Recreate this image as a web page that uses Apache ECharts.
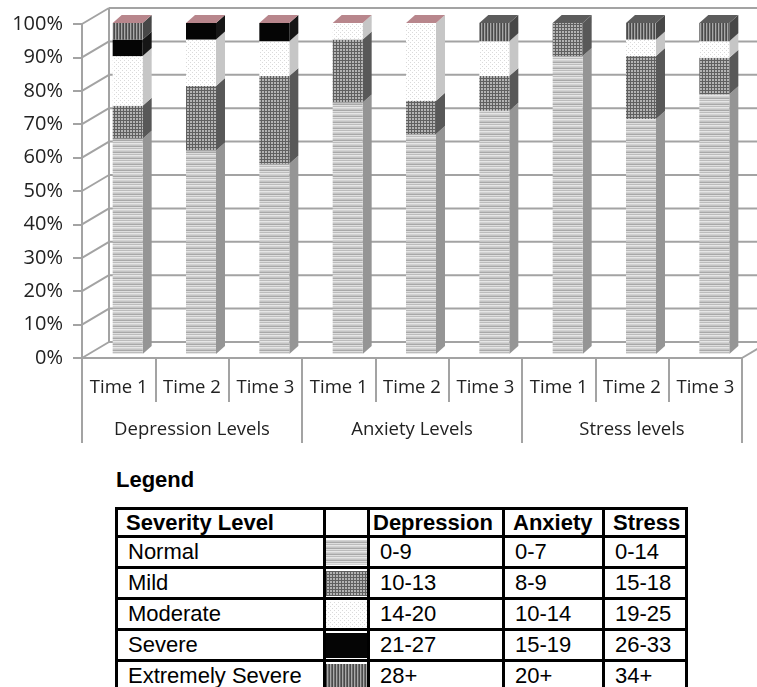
<!DOCTYPE html>
<html>
<head>
<meta charset="utf-8">
<title>Depression, anxiety and stress levels</title>
<script src="https://cdn.jsdelivr.net/npm/echarts@6/dist/echarts.min.js"></script>
<style>
body{margin:0;background:#fff;width:757px;height:687px;position:relative;overflow:hidden}
#chart{position:absolute;left:0;top:0;width:757px;height:460px}
#legendTitle{position:absolute;left:116px;top:467px;font:bold 22px "Liberation Sans",Arial,sans-serif;color:#000}
#legend{position:absolute;left:115px;top:507px;width:570px;table-layout:fixed;border-collapse:collapse;font:22px "Liberation Sans",Arial,sans-serif;color:#000}
#legend td,#legend th{border:3px solid #000;padding:0 0 0 10px;height:26px;line-height:26px;text-align:left;white-space:nowrap;overflow:hidden}
#legend th{font-weight:bold;padding-left:8px;height:25px;line-height:25px}
#legend th.tight{padding-left:3px}
#legend td.sw{padding:1px 0}
#legend td.sw div{height:25px}
</style>
</head>
<body>
<div id="chart"></div>
<div id="legendTitle">Legend</div>
<table id="legend">
  <colgroup><col style="width:208px"><col style="width:44px"><col style="width:135px"><col style="width:100px"><col style="width:83px"></colgroup>
  <thead><tr><th>Severity Level</th><th></th><th class="tight">Depression</th><th>Anxiety</th><th>Stress</th></tr></thead>
  <tbody id="legendBody"></tbody>
</table>
<script type="text/javascript">
// 数据
var categories = ['Time 1', 'Time 2', 'Time 3', 'Time 1', 'Time 2', 'Time 3', 'Time 1', 'Time 2', 'Time 3'];
var groups = ['Depression Levels', 'Anxiety Levels', 'Stress levels'];
var yTicks = [0, 10, 20, 30, 40, 50, 60, 70, 80, 90, 100];

var levels = ['Normal', 'Mild', 'Moderate', 'Severe', 'Extremely Severe'];
var normal   = [65, 61.5, 57.5, 76, 66.5, 73.5, 90, 71, 78.5];
var mild     = [10, 19.5, 26.5, 19, 10, 10.5, 10, 19, 11];
var moderate = [15, 14, 10.5, 5, 23.5, 10.5, 0, 5, 5];
var severe   = [5, 5, 5.5, 0, 0, 0, 0, 0, 0];
var extreme  = [5, 0, 0, 0, 0, 5.5, 0, 5, 5.5];

var depressionRanges = ['0-9', '10-13', '14-20', '21-27', '28+'];
var anxietyRanges    = ['0-7', '8-9', '10-14', '15-19', '20+'];
var stressRanges     = ['0-14', '15-18', '19-25', '26-33', '34+'];

// 图案
function makeCanvas(w, h, draw) {
    var c = document.createElement('canvas');
    c.width = w; c.height = h;
    draw(c.getContext('2d'));
    return c;
}
var patternCanvas = [
    makeCanvas(1, 6, function (g) {
        var rows = ['#d2d2d2', '#c4c4c4', '#a8a8a8', '#dedede', '#bcbcbc', '#e6e6e6'];
        rows.forEach(function (c, i) { g.fillStyle = c; g.fillRect(0, i, 1, 1); });
    }),
    makeCanvas(3, 3, function (g) {
        g.fillStyle = '#b4b4b4'; g.fillRect(0, 0, 3, 3);
        g.fillStyle = '#606060'; g.fillRect(0, 0, 3, 1); g.fillRect(0, 0, 1, 3);
    }),
    makeCanvas(4, 4, function (g) {
        g.fillStyle = '#ffffff'; g.fillRect(0, 0, 4, 4);
        g.fillStyle = '#dadada'; g.fillRect(0, 0, 1, 1); g.fillRect(2, 2, 1, 1);
    }),
    makeCanvas(2, 2, function (g) {
        g.fillStyle = '#050505'; g.fillRect(0, 0, 2, 2);
    }),
    makeCanvas(3, 1, function (g) {
        g.fillStyle = '#4a4a4a'; g.fillRect(0, 0, 1, 1);
        g.fillStyle = '#a8a8a8'; g.fillRect(1, 0, 1, 1);
        g.fillStyle = '#6a6a6a'; g.fillRect(2, 0, 1, 1);
    })
];
var patterns = patternCanvas.map(function (c) { return { image: c, repeat: 'repeat' }; });
var sideColors = ['#959595', '#585858', '#c6c6c6', '#161616', '#474747'];
var capColors = ['#b8868c', '#b8868c', '#b8868c', '#b8868c', '#b8868c', '#5c5c5c', '#5c5c5c', '#5c5c5c', '#5c5c5c'];

var BW = 30, DX = 9, DY = 8, SHIFT = 9;   // 柱子
var WX = 27, WY = 16;                     // 背景墙
var gridColor = '#a3a3a3';
var labelFont = 'Open Sans';

function barY(p, v) { return p - 4 + 0.03 * v; }

function makeBar(k) {
    return function (params, api) {
        var i = api.value(0), lo = api.value(1), hi = api.value(2);
        if (hi - lo <= 0) return null;
        var pb = api.coord([i, lo]), pt = api.coord([i, hi]);
        var x0 = pb[0] + SHIFT - BW / 2, x1 = x0 + BW;
        var yb = barY(pb[1], lo), yt = barY(pt[1], hi);
        var children = [
            { type: 'polygon', shape: { points: [[x1, yt], [x1 + DX, yt - DY], [x1 + DX, yb - DY], [x1, yb]] }, style: { fill: sideColors[k] } },
            { type: 'rect', shape: { x: x0, y: yt, width: BW, height: yb - yt }, style: { fill: patterns[k] } }
        ];
        if (hi >= 99.9) {
            children.push({ type: 'polygon', shape: { points: [[x0, yt], [x0 + DX, yt - DY], [x1 + DX, yt - DY], [x1, yt]] }, style: { fill: capColors[i] } });
        }
        return { type: 'group', children: children };
    };
}

function renderWall(params, api) {
    var v = api.value(1);
    var cs = params.coordSys;
    var y = api.coord([0, v])[1];
    var xl = cs.x, xr = cs.x + cs.width;
    var st = { stroke: gridColor, lineWidth: 2 };
    var children = [
        { type: 'line', shape: { x1: xl, y1: y, x2: xl + WX, y2: y - WY }, style: st },
        { type: 'line', shape: { x1: xl + WX, y1: y - WY, x2: xr + WX, y2: y - WY }, style: st }
    ];
    if (v === 0) {
        var yTop = api.coord([0, 100])[1];
        children.push({ type: 'line', shape: { x1: xr, y1: y, x2: xr + WX, y2: y - WY }, style: st });
        children.push({ type: 'line', shape: { x1: xl + WX, y1: y - WY, x2: xl + WX, y2: yTop - WY }, style: st });
    }
    return { type: 'group', children: children };
}

// 堆叠
var stackData = [normal, mild, moderate, severe, extreme];
var bases = categories.map(function () { return 0; });
var barSeries = stackData.map(function (vals, k) {
    var data = vals.map(function (v, i) {
        var lo = bases[i];
        bases[i] += v;
        return [i, lo, lo + v];
    });
    return {
        type: 'custom',
        name: levels[k],
        renderItem: makeBar(k),
        encode: { x: 0, y: [1, 2] },
        data: data,
        z: 3,
        silent: true
    };
});

var chart = echarts.init(document.getElementById('chart'), null, { renderer: 'canvas' });
chart.setOption({
    animation: false,
    grid: { left: 82, right: 15, top: 24, bottom: 102 },
    xAxis: [{
        type: 'category',
        data: categories,
        axisLine: { lineStyle: { color: gridColor, width: 2 } },
        axisTick: { show: true, interval: 0, length: 44, lineStyle: { color: gridColor, width: 2 } },
        axisLabel: { interval: 0, margin: 20, fontSize: 18.5, fontFamily: labelFont, color: '#222' }
    }, {
        type: 'category',
        data: groups,
        position: 'bottom',
        axisLine: { show: false },
        axisTick: { show: true, interval: 0, length: 85, lineStyle: { color: gridColor, width: 2 } },
        axisLabel: { interval: 0, margin: 62, fontSize: 18.5, fontFamily: labelFont, color: '#222' }
    }],
    yAxis: {
        type: 'value',
        min: 0,
        max: 100,
        interval: 10,
        axisLine: { show: true, lineStyle: { color: gridColor, width: 2 } },
        axisTick: { show: true, length: 9, lineStyle: { color: gridColor, width: 2 } },
        splitLine: { show: false },
        axisLabel: { formatter: '{value}%', margin: 19, fontSize: 20, fontFamily: labelFont, color: '#222' }
    },
    series: [{
        type: 'custom',
        renderItem: renderWall,
        data: yTicks.map(function (v) { return [0, v]; }),
        z: 1,
        silent: true
    }].concat(barSeries)
});

// 图例表格
var ranges = [depressionRanges, anxietyRanges, stressRanges];
var tbody = document.getElementById('legendBody');
levels.forEach(function (name, k) {
    var tr = document.createElement('tr');
    var td = document.createElement('td');
    td.textContent = name;
    tr.appendChild(td);
    var sw = document.createElement('td');
    sw.className = 'sw';
    var box = document.createElement('div');
    box.style.backgroundImage = 'url(' + patternCanvas[k].toDataURL() + ')';
    sw.appendChild(box);
    tr.appendChild(sw);
    ranges.forEach(function (r) {
        var c = document.createElement('td');
        c.textContent = r[k];
        tr.appendChild(c);
    });
    tbody.appendChild(tr);
});
</script>
</body>
</html>
